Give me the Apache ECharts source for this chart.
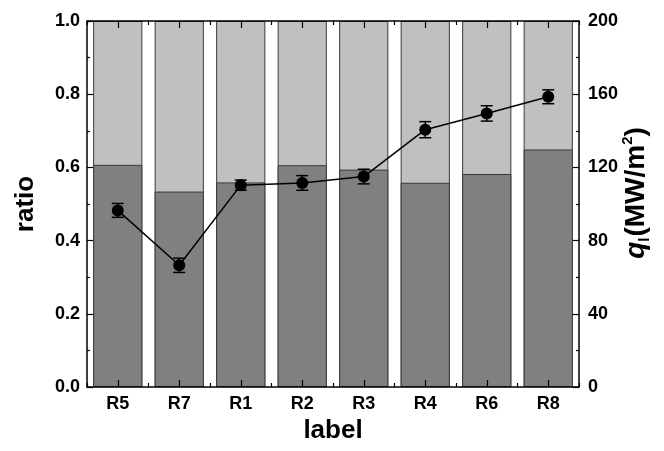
<!DOCTYPE html>
<html>
<head>
<meta charset="utf-8">
<script src="https://cdn.jsdelivr.net/npm/echarts@6/dist/echarts.min.js"></script>
<style>
html,body{margin:0;padding:0;background:#fff;}
#chart{width:664px;height:451px;}
</style>
</head>
<body>
<div id="chart"></div>
<script>
var categories = ['R5','R7','R1','R2','R3','R4','R6','R8'];
var ratioLower = [0.607, 0.534, 0.559, 0.606, 0.594, 0.558, 0.582, 0.649];
var ratioTotal = [1, 1, 1, 1, 1, 1, 1, 1];
var qValues = [96.5, 66.5, 110.3, 111.5, 115.0, 140.6, 149.5, 158.6];
var qErrors = [3.8, 3.9, 2.8, 4.0, 4.0, 4.4, 4.2, 3.8];
var leftTicks = [0, 0.2, 0.4, 0.6, 0.8, 1.0];
var rightTicks = [0, 40, 80, 120, 160, 200];

var FONT = "'Liberation Sans', Arial, sans-serif";
var chart = echarts.init(document.getElementById('chart'), null, {renderer: 'canvas'});

var errData = qValues.map(function (v, i) { return [i, v - qErrors[i], v + qErrors[i]]; });

var tickLabelStyle = {fontFamily: FONT, fontWeight: 'bold', fontSize: 18, color: '#000'};
var axisLineStyle = {color: '#000', width: 1.5};

var option = {
  animation: false,
  backgroundColor: '#fff',
  grid: {left: 87, right: 85, top: 21, bottom: 64, containLabel: false, outerBoundsMode: 'none'},
  xAxis: [
    {
      type: 'category', data: categories, position: 'bottom',
      name: 'label', nameLocation: 'middle', nameGap: 30,
      nameTextStyle: {fontFamily: FONT, fontWeight: 'bold', fontSize: 26, color: '#000'},
      axisLine: {show: true, lineStyle: axisLineStyle},
      axisTick: {show: true, inside: true, alignWithLabel: true, length: 7, lineStyle: {color: '#000', width: 1.2}},
      axisLabel: Object.assign({margin: 8}, tickLabelStyle),
      splitLine: {show: false}, z: 10
    },
    {
      type: 'category', data: categories, position: 'bottom',
      axisLine: {show: false},
      axisTick: {show: true, inside: true, alignWithLabel: false, length: 4, lineStyle: {color: '#000', width: 1.2}},
      axisLabel: {show: false}, splitLine: {show: false}, z: 10
    },
    {
      type: 'category', data: categories, position: 'top',
      axisLine: {show: true, lineStyle: axisLineStyle},
      axisTick: {show: true, inside: true, alignWithLabel: true, length: 7, lineStyle: {color: '#000', width: 1.2}},
      axisLabel: {show: false}, splitLine: {show: false}, z: 10
    },
    {
      type: 'category', data: categories, position: 'top',
      axisLine: {show: false},
      axisTick: {show: true, inside: true, alignWithLabel: false, length: 4, lineStyle: {color: '#000', width: 1.2}},
      axisLabel: {show: false}, splitLine: {show: false}, z: 10
    }
  ],
  yAxis: [
    {
      type: 'value', position: 'left', min: leftTicks[0], max: leftTicks[leftTicks.length - 1], interval: 0.2,
      name: 'ratio', nameLocation: 'middle', nameGap: 48, nameRotate: 90,
      nameTextStyle: {fontFamily: FONT, fontWeight: 'bold', fontSize: 26, color: '#000'},
      axisLine: {show: true, lineStyle: axisLineStyle},
      axisTick: {show: true, inside: true, length: 6, lineStyle: {color: '#000', width: 1.2}},
      minorTick: {show: true, splitNumber: 2, length: 3, lineStyle: {color: '#000', width: 1.2}},
      axisLabel: Object.assign({margin: 7, formatter: function (v) { return v.toFixed(1); }}, tickLabelStyle),
      splitLine: {show: false}, z: 10
    },
    {
      type: 'value', position: 'right', min: rightTicks[0], max: rightTicks[rightTicks.length - 1], interval: 40,
      name: '{q|q}{sub|l}{n|(MW/m}{sup|2}{n|)}', nameLocation: 'middle', nameGap: 41, nameRotate: 90,
      nameMoveOverlap: false,
      nameTextStyle: {
        fontFamily: FONT, fontWeight: 'bold', fontSize: 28, color: '#000', padding: [0, 0, 0, 22],
        rich: {
          q: {fontFamily: FONT, fontWeight: 'bold', fontStyle: 'italic', fontSize: 28, color: '#000', lineHeight: 32},
          n: {fontFamily: FONT, fontWeight: 'bold', fontSize: 28, color: '#000', lineHeight: 32},
          sub: {fontFamily: FONT, fontWeight: 'bold', fontSize: 15, color: '#000', verticalAlign: 'bottom', lineHeight: 32, padding: [0, 1, 0, 0]},
          sup: {fontFamily: FONT, fontWeight: 'bold', fontSize: 15, color: '#000', verticalAlign: 'top', lineHeight: 32}
        }
      },
      axisLine: {show: true, lineStyle: axisLineStyle},
      axisTick: {show: true, inside: true, length: 6, lineStyle: {color: '#000', width: 1.2}},
      minorTick: {show: true, splitNumber: 2, length: 3, lineStyle: {color: '#000', width: 1.2}},
      axisLabel: Object.assign({margin: 9}, tickLabelStyle),
      splitLine: {show: false}, z: 10
    }
  ],
  series: [
    {
      name: 'total', type: 'bar', xAxisIndex: 0, yAxisIndex: 0, data: ratioTotal,
      barCategoryGap: '20%', barGap: '-100%',
      itemStyle: {color: '#c0c0c0', borderColor: '#3a3a3a', borderWidth: 1},
      z: 1
    },
    {
      name: 'lower', type: 'bar', xAxisIndex: 0, yAxisIndex: 0, data: ratioLower,
      barCategoryGap: '20%', barGap: '-100%',
      itemStyle: {color: '#808080', borderColor: '#3a3a3a', borderWidth: 1},
      z: 2
    },
    {
      name: 'q', type: 'line', xAxisIndex: 0, yAxisIndex: 1, data: qValues,
      symbol: 'circle', symbolSize: 12,
      lineStyle: {color: '#000', width: 1.5},
      itemStyle: {color: '#000'},
      z: 5
    },
    {
      name: 'err', type: 'custom', xAxisIndex: 0, yAxisIndex: 1, data: errData,
      encode: {x: 0, y: [1, 2]},
      renderItem: function (params, api) {
        var x = api.value(0);
        var lo = api.coord([x, api.value(1)]);
        var hi = api.coord([x, api.value(2)]);
        var hw = 6;
        var st = {stroke: '#000', lineWidth: 1.5, fill: null};
        return {
          type: 'group',
          children: [
            {type: 'line', shape: {x1: lo[0], y1: lo[1], x2: hi[0], y2: hi[1]}, style: st},
            {type: 'line', shape: {x1: lo[0] - hw, y1: lo[1], x2: lo[0] + hw, y2: lo[1]}, style: st},
            {type: 'line', shape: {x1: hi[0] - hw, y1: hi[1], x2: hi[0] + hw, y2: hi[1]}, style: st}
          ]
        };
      },
      z: 6
    }
  ]
};
chart.setOption(option);
</script>
</body>
</html>
